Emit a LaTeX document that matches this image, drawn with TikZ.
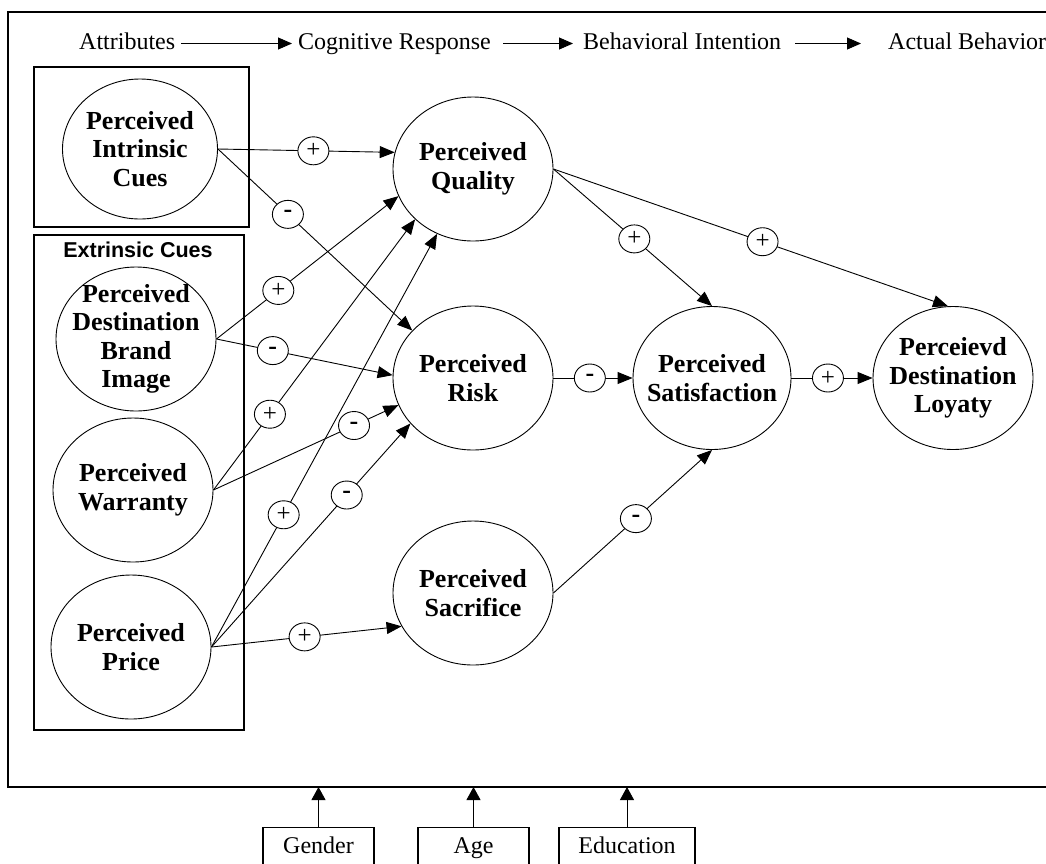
\documentclass[tikz,border=0pt]{standalone}
\usepackage{fontspec}
\setmainfont{Liberation Serif}
\newfontfamily\cuesfont{Liberation Sans}
\usetikzlibrary{shapes.geometric,arrows.meta}
\begin{document}
\begin{tikzpicture}[x=1pt,y=-1pt,
  construct/.style={ellipse,draw,line width=0.9pt,minimum width=160pt,minimum height=144pt,inner sep=0pt},
  cname/.style={align=center,font=\fontsize{26}{28.5}\selectfont\bfseries,inner sep=0pt},
  sgn/.style={ellipse,draw,fill=white,line width=0.9pt,minimum width=31pt,minimum height=28pt,inner sep=0pt,font=\fontsize{25}{25}\selectfont},
  neg/.style={sgn,font=\fontsize{26}{26}\selectfont\bfseries},
  link/.style={line width=0.9pt,-{Triangle[length=15pt,width=12pt]}},
  stage/.style={font=\fontsize{24}{24}\selectfont,inner sep=0pt,text height=16pt,text depth=5pt,anchor=base west},
  stagearrow/.style={line width=0.9pt,-{Triangle[length=14pt,width=12pt]}},
  frameline/.style={line width=1.6pt},
  ctrl/.style={draw,line width=1.4pt,minimum width=111pt,minimum height=41pt,anchor=north,inner sep=0pt,text height=16pt,text depth=5pt,font=\fontsize{24}{24}\selectfont}
]
\clip (0,0) rectangle (1046,863);

% outer frame and cue groups
\draw[frameline] (8,12) rectangle (1075,787);
\coordinate (fbl) at (8,787);
\draw[frameline] (34,67) rectangle (249,227);
\draw[frameline] (34,235) rectangle (244,730);
\node[font=\cuesfont\bfseries\fontsize{21.5}{21.5}\selectfont,anchor=base,inner sep=0pt] (ext) at (138,257) {Extrinsic Cues};

% stage sequence along the top
\node[stage] (h1) at (79,49) {Attributes};
\node[stage] (h2) at (298,49) {Cognitive Response};
\node[stage] (h3) at (583,49) {Behavioral Intention};
\node[stage] (h4) at (888,49) {Actual Behavior};
\draw[stagearrow,shorten <=6pt,shorten >=6pt] (h1.east) -- (h2.west);
\draw[stagearrow,shorten <=12pt,shorten >=10pt] (h2.east) -- (h3.west);
\draw[stagearrow,shorten <=14pt,shorten >=27pt] (h3.east) -- (h4.west);

% constructs
\node[construct,minimum width=155pt,minimum height=140pt] (I) at (140,149) {};
\node[cname] at (I) {Perceived\\Intrinsic\\Cues};
\node[construct] (D) at (136,339) {};
\node[cname] at (D) {Perceived\\Destination\\Brand\\Image};
\node[construct] (W) at (133,490) {};
\node[cname] at (W) {Perceived\\Warranty};
\node[construct] (P) at (131,647) {};
\node[cname] at (P) {Perceived\\Price};
\node[construct] (Q) at (473,169) {};
\node[cname] at (Q) {Perceived\\Quality};
\node[construct] (R) at (473,378) {};
\node[cname] at (R) {Perceived\\Risk};
\node[construct] (S) at (473,593) {};
\node[cname] at (S) {Perceived\\Sacrifice};
\node[construct,minimum width=158pt,minimum height=143pt] (T) at (712,378) {};
\node[cname] at (T) {Perceived\\Satisfaction};
\node[construct,minimum height=143pt] (L) at (953,378) {};
\node[cname] at (L) {Perceievd\\Destination\\Loyaty};

% hypothesised paths with their signs
\draw[link] (I.east) -- node[sgn,pos=0.54] (s1) {+} (Q.168);
\draw[link] (I.east) -- node[neg,pos=0.36] (s2) {-} (R.142);
\draw[link] (D.east) -- node[sgn,pos=0.34] (s3) {+} (Q.200);
\draw[link] (D.east) -- node[neg,pos=0.32] (s4) {-} (R.178);
\draw[link] (W.east) -- node[sgn,pos=0.28] (s5) {+} (Q.221);
\draw[link] (W.east) -- node[neg,pos=0.76] (s6) {-} (R.200);
\draw[link] (P.east) -- node[sgn,pos=0.32] (s7) {+} (Q.241);
\draw[link] (P.east) -- node[neg,pos=0.68] (s8) {-} (R.216);
\draw[link] (P.east) -- node[sgn,pos=0.49] (s9) {+} (S.205);
\draw[link] (Q.east) -- node[sgn,pos=0.51] (s10) {+} (T.90);
\draw[link] (Q.east) -- node[sgn,pos=0.53] (s11) {+} (L.94);
\draw[link] (R.east) -- node[neg,pos=0.46] (s12) {-} (T.west);
\draw[link] (T.east) -- node[sgn,pos=0.45] (s13) {+} (L.west);
\draw[link] (S.east) -- node[neg,pos=0.52] (s14) {-} (T.270);

% moderators below the frame
\node[ctrl] (gen) at (318.5,827) {Gender};
\node[ctrl] (age) at (473.5,827) {Age};
\node[ctrl,minimum width=136pt] (edu) at (627,827) {Education};
\draw[link,-{Triangle[length=13pt,width=14pt]}] (gen.north) -- (gen.north |- fbl);
\draw[link,-{Triangle[length=13pt,width=14pt]}] (age.north) -- (age.north |- fbl);
\draw[link,-{Triangle[length=13pt,width=14pt]}] (edu.north) -- (edu.north |- fbl);
\end{tikzpicture}
\end{document}
